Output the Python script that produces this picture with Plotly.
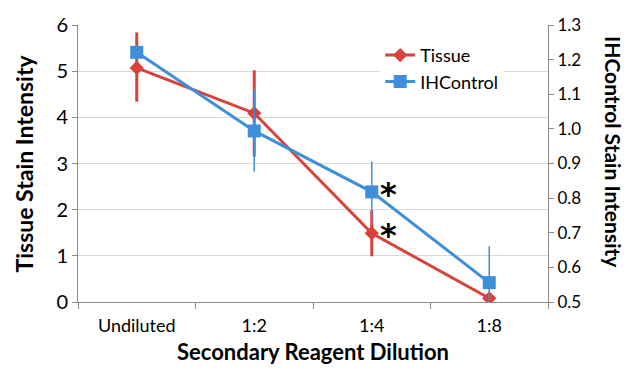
import plotly.graph_objects as go

categories = ["Undiluted", "1:2", "1:4", "1:8"]
tissue = [5.07, 4.09, 1.49, 0.08]
tissue_err_plus = [0.77, 0.93, 0.50, 0.05]
tissue_err_minus = [0.73, 0.94, 0.50, 0.05]
ihc = [1.221, 0.994, 0.818, 0.556]
ihc_err_plus = [0.02, 0.12, 0.088, 0.105]
ihc_err_minus = [0.02, 0.118, 0.09, 0.06]
left_ticks = [0, 1, 2, 3, 4, 5, 6]
right_ticks = [0.5, 0.6, 0.7, 0.8, 0.9, 1.0, 1.1, 1.2, 1.3]

RED = "#D8423B"
BLUE = "#3F8EDA"
FONT = "Lato, 'Open Sans', sans-serif"

fig = go.Figure()
fig.add_trace(go.Scatter(
    x=categories, y=tissue, name="Tissue", mode="lines+markers",
    line=dict(color=RED, width=3),
    marker=dict(symbol="diamond", size=11, color=RED),
    error_y=dict(type="data", array=tissue_err_plus, arrayminus=tissue_err_minus,
                 color=RED, thickness=3, width=0),
    yaxis="y"))
fig.add_trace(go.Scatter(
    x=categories, y=ihc, name="IHControl", mode="lines+markers",
    line=dict(color=BLUE, width=3),
    marker=dict(symbol="square", size=13, color=BLUE),
    error_y=dict(type="data", array=ihc_err_plus, arrayminus=ihc_err_minus,
                 color=BLUE, thickness=1.5, width=0),
    yaxis="y2"))

axis_gray = "#8C8C8C"
fig.update_layout(
    width=633, height=373,
    margin=dict(l=78, r=85, t=17, b=71),
    paper_bgcolor="white", plot_bgcolor="white",
    font=dict(family=FONT, color="black"),
    showlegend=True,
    legend=dict(x=0.643, y=0.957, xanchor="left", yanchor="top",
                bgcolor="white", font=dict(size=18, family=FONT),
                tracegroupgap=0, itemwidth=30),
    xaxis=dict(type="category", range=[-0.5, 3.5], showline=True,
               linecolor=axis_gray, linewidth=1, ticks="outside",
               tickson="boundaries", ticklen=6, tickcolor=axis_gray,
               showgrid=False, tickfont=dict(size=18), ticklabelstandoff=7),
    yaxis=dict(range=[0, 6], tickvals=left_ticks, showline=True,
               linecolor=axis_gray, ticks="outside", ticklen=5,
               tickcolor=axis_gray, showgrid=True, gridcolor="#D9D9D9",
               gridwidth=1, tickfont=dict(size=20), zeroline=False),
    yaxis2=dict(range=[0.5, 1.3], tickvals=right_ticks, tickformat=".1f",
                overlaying="y", side="right", showline=True,
                linecolor=axis_gray, ticks="outside", ticklen=5,
                tickcolor=axis_gray, showgrid=False, tickfont=dict(size=17),
                zeroline=False),
    annotations=[
        dict(text="<b>Secondary Reagent Dilution</b>", xref="paper", yref="paper",
             x=0.5, y=-0.179, showarrow=False, font=dict(size=22),
             xanchor="center", yanchor="middle"),
        dict(text="<b>Tissue Stain Intensity</b>", xref="paper", yref="paper",
             x=-0.117, y=0.5, textangle=-90, showarrow=False,
             font=dict(size=23), xanchor="center", yanchor="middle"),
        dict(text="<b>IHControl Stain Intensity</b>", xref="paper", yref="paper",
             x=1.138, y=0.542, textangle=90, showarrow=False,
             font=dict(size=21), xanchor="center", yanchor="middle"),
        dict(text="<b>*</b>", x="1:4", y=ihc[2], xref="x", yref="y2", xshift=17,
             yshift=-2, showarrow=False, font=dict(size=32, family="DejaVu Sans")),
        dict(text="<b>*</b>", x="1:4", y=tissue[2], xref="x", yref="y", xshift=17,
             yshift=-2, showarrow=False, font=dict(size=32, family="DejaVu Sans")),
    ],
)

fig.write_html("out.html")
